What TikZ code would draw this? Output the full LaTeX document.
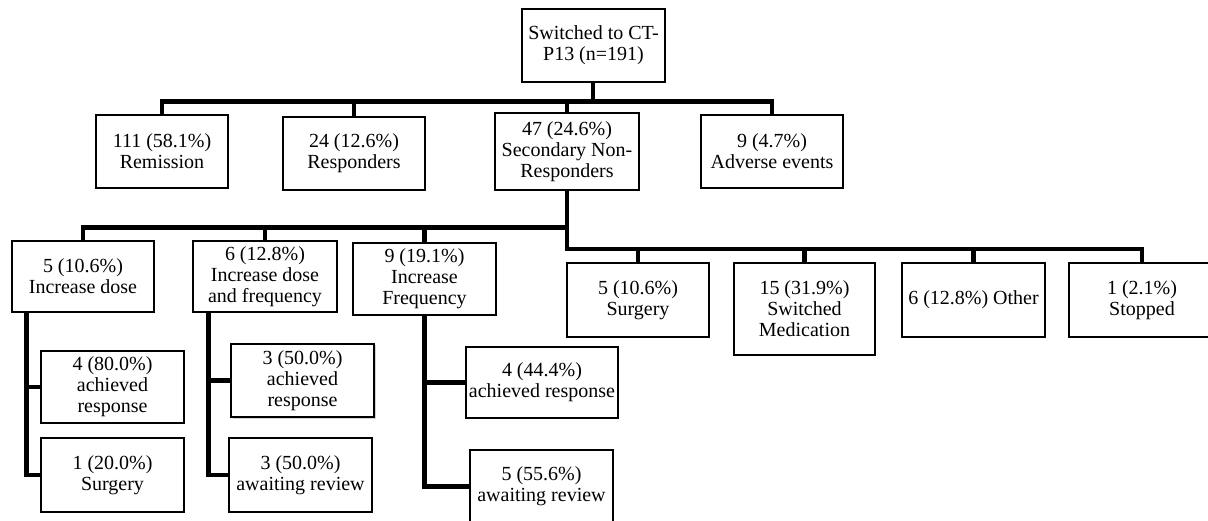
\documentclass[tikz,border=0pt]{standalone}
\usepackage{fontspec}
\setmainfont{Liberation Serif}
\usetikzlibrary{calc,shadows}
\tikzset{
  bx/.style={draw, line width=1.5pt, inner sep=0pt, align=center, fill=white,
    font=\fontsize{20}{21}\selectfont},
  conn/.style={draw, line width=4.5pt, line join=miter},
}
\begin{document}
\begin{tikzpicture}[x=1pt,y=-1pt]
\useasboundingbox (0,0) rectangle (1208,521);

% level 0 and 1
\node[bx, minimum width=143pt, minimum height=73pt] (top) at (593.5,45.5) {Switched to CT-\\P13 (n=191)};
\node[bx, minimum width=132pt, minimum height=73pt] (rem) at (162,151.5) {111 (58.1\%)\\Remission};
\node[bx, minimum width=142pt, minimum height=73pt] (resp) at (354,153.5) {24 (12.6\%)\\Responders};
\node[bx, minimum width=144pt, minimum height=77pt] (snr) at (567,151.5) {47 (24.6\%)\\Secondary Non-\\Responders};
\node[bx, minimum width=142pt, minimum height=73pt] (adv) at (772,151.5) {9 (4.7\%)\\Adverse events};

% level 2
\node[bx, minimum width=142pt, minimum height=71pt] (incd) at (83,276.5) {5 (10.6\%)\\Increase dose};
\node[bx, minimum width=144pt, minimum height=71pt] (idf) at (265,276.5) {6 (12.8\%)\\Increase dose\\and frequency};
\node[bx, minimum width=143pt, minimum height=72pt] (ifr) at (424.5,279) {9 (19.1\%)\\Increase\\Frequency};
\node[bx, minimum width=142pt, minimum height=74pt] (surg) at (638,300) {5 (10.6\%)\\Surgery};
\node[bx, minimum width=141pt, minimum height=92pt] (swm) at (804.5,309) {15 (31.9\%)\\Switched\\Medication};
\node[bx, minimum width=143pt, minimum height=74pt] (oth) at (973.5,300) {6 (12.8\%) Other};
\node[bx, minimum width=146pt, minimum height=74pt] (stp) at (1142,300) {1 (2.1\%)\\Stopped};

% level 3
\node[bx, minimum width=143pt, minimum height=72pt] (a1) at (112.5,387) {4 (80.0\%)\\achieved\\response};
\node[bx, minimum width=143pt, minimum height=74pt] (s1) at (112.5,475) {1 (20.0\%)\\Surgery};
\node[bx, minimum width=143pt, minimum height=73pt,
  drop shadow={opacity=0.35, shadow xshift=1.5pt, shadow yshift=-1.5pt}] (a2) at (302.5,380.5) {3 (50.0\%)\\achieved\\response};
\node[bx, minimum width=143pt, minimum height=74pt] (w2) at (300.5,475) {3 (50.0\%)\\awaiting review};
\node[bx, minimum width=152pt, minimum height=71pt] (a3) at (542,382.5) {4 (44.4\%)\\achieved response};
\node[bx, minimum width=143pt, minimum height=73pt] (w3) at (541.5,486.5) {5 (55.6\%)\\awaiting review};

% connectors level 1
\coordinate (h1) at (593,101.5);
\draw[conn] (top.south -| h1) -- (h1);
\draw[conn] (rem.north) |- (h1) -| (adv.north);
\draw[conn] (resp.north) -- (resp.north |- h1);
\draw[conn] (snr.north) -- (snr.north |- h1);

% connectors level 2
\coordinate (h2) at (567,249);
\coordinate (h2l) at (567,227.5);
\draw[conn] (snr.south) -- (h2) -| (stp.north);
\draw[conn] (h2) -| (surg.north);
\draw[conn] (h2) -| (swm.north);
\draw[conn] (h2) -| (oth.north);
\draw[conn] (h2l) -| (incd.north);
\draw[conn] (h2l) -| (idf.north);
\draw[conn] (h2l) -| (ifr.north);

% connectors level 3
\coordinate (v1) at ($(incd.south west)+(15,0)$);
\draw[conn] (v1) |- (s1.west);
\draw[conn] (v1 |- a1.west) -- (a1.west);
\coordinate (v2) at ($(idf.south west)+(16,0)$);
\draw[conn] (v2) |- (w2.west);
\draw[conn] (v2 |- a2.west) -- (a2.west);
\coordinate (v3) at (ifr.south);
\draw[conn] (v3) |- (w3.west);
\draw[conn] (v3 |- a3.west) -- (a3.west);
\end{tikzpicture}
\end{document}
